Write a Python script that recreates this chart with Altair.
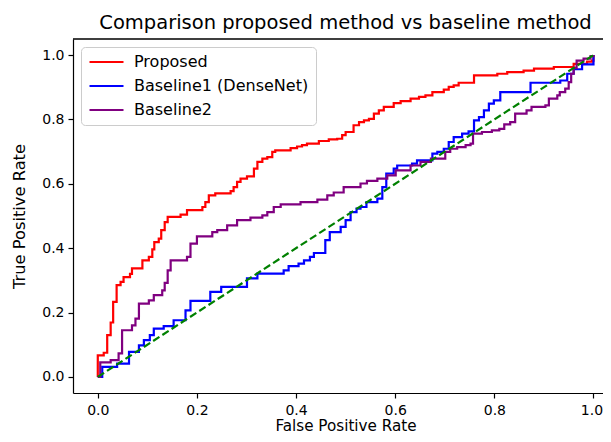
import altair as alt
import pandas as pd

# ---- data ----
series_names = ["Proposed", "Baseline1 (DenseNet)", "Baseline2"]
series_colors = ["#ff0000", "#0000ff", "#800080"]

proposed_fpr = [0, 0, 0.012, 0.019, 0.026, 0.031, 0.038, 0.046, 0.052, 0.065, 0.069, 0.09, 0.103, 0.11,
                0.114, 0.123, 0.128, 0.135, 0.141, 0.167, 0.18, 0.211, 0.217, 0.224, 0.237, 0.268, 0.274,
                0.281, 0.288, 0.301, 0.315, 0.322, 0.332, 0.342, 0.352, 0.358, 0.389, 0.402, 0.412, 0.422,
                0.446, 0.466, 0.483, 0.493, 0.5, 0.516, 0.527, 0.537, 0.547, 0.557, 0.567, 0.577, 0.597,
                0.611, 0.631, 0.648, 0.661, 0.675, 0.698, 0.708, 0.718, 0.728, 0.759, 0.806, 0.826, 0.859,
                0.88, 0.92, 0.96, 0.987, 0.997, 1.0]
proposed_tpr = [0, 0.067, 0.075, 0.13, 0.169, 0.233, 0.285, 0.295, 0.31, 0.32, 0.337, 0.362, 0.373, 0.396,
                0.419, 0.43, 0.456, 0.481, 0.497, 0.504, 0.518, 0.528, 0.543, 0.564, 0.57, 0.577, 0.59,
                0.606, 0.616, 0.623, 0.647, 0.668, 0.678, 0.683, 0.699, 0.704, 0.711, 0.716, 0.72, 0.725,
                0.733, 0.738, 0.74, 0.751, 0.761, 0.782, 0.792, 0.797, 0.802, 0.818, 0.828, 0.839, 0.851,
                0.857, 0.865, 0.87, 0.875, 0.885, 0.893, 0.901, 0.906, 0.914, 0.937, 0.942, 0.947, 0.952,
                0.958, 0.963, 0.973, 0.98, 0.983, 1.0]

baseline1_fpr = [0, 0.009, 0.039, 0.063, 0.083, 0.093, 0.105, 0.113, 0.133, 0.153, 0.177, 0.187, 0.227,
                 0.249, 0.301, 0.322, 0.375, 0.385, 0.405, 0.416, 0.428, 0.436, 0.459, 0.468, 0.49, 0.5,
                 0.51, 0.522, 0.53, 0.542, 0.564, 0.574, 0.582, 0.597, 0.604, 0.634, 0.644, 0.675, 0.685,
                 0.698, 0.708, 0.718, 0.735, 0.748, 0.759, 0.769, 0.779, 0.789, 0.799, 0.812, 0.873, 0.933,
                 0.947, 0.96, 0.977, 1.0]
baseline1_tpr = [0, 0.031, 0.041, 0.078, 0.098, 0.114, 0.13, 0.15, 0.158, 0.176, 0.207, 0.236, 0.264,
                 0.28, 0.306, 0.321, 0.331, 0.344, 0.352, 0.362, 0.373, 0.385, 0.425, 0.45, 0.466, 0.487,
                 0.512, 0.523, 0.528, 0.543, 0.554, 0.59, 0.632, 0.647, 0.657, 0.663, 0.673, 0.694, 0.699,
                 0.709, 0.73, 0.745, 0.756, 0.763, 0.797, 0.807, 0.828, 0.849, 0.859, 0.885, 0.914, 0.921,
                 0.942, 0.956, 0.971, 1.0]

baseline2_fpr = [0, 0.005, 0.026, 0.042, 0.049, 0.069, 0.076, 0.083, 0.103, 0.113, 0.13, 0.135, 0.141,
                 0.147, 0.18, 0.187, 0.2, 0.231, 0.241, 0.261, 0.281, 0.308, 0.332, 0.342, 0.355, 0.369,
                 0.409, 0.443, 0.463, 0.476, 0.496, 0.53, 0.543, 0.564, 0.584, 0.601, 0.631, 0.651, 0.672,
                 0.701, 0.711, 0.725, 0.742, 0.752, 0.757, 0.775, 0.795, 0.81, 0.82, 0.832, 0.842, 0.865,
                 0.875, 0.903, 0.91, 0.927, 0.932, 0.943, 0.95, 0.955, 0.96, 0.966, 0.98, 0.994, 1.0]
baseline2_tpr = [0, 0.045, 0.052, 0.073, 0.145, 0.16, 0.181, 0.228, 0.238, 0.254, 0.269, 0.292, 0.331,
                 0.362, 0.373, 0.414, 0.437, 0.45, 0.456, 0.471, 0.487, 0.495, 0.502, 0.512, 0.528, 0.536,
                 0.543, 0.551, 0.564, 0.573, 0.59, 0.601, 0.609, 0.616, 0.626, 0.642, 0.657, 0.668, 0.678,
                 0.699, 0.709, 0.714, 0.72, 0.725, 0.756, 0.761, 0.766, 0.771, 0.785, 0.792, 0.818, 0.828,
                 0.839, 0.844, 0.865, 0.875, 0.885, 0.896, 0.916, 0.942, 0.96, 0.983, 0.989, 0.997, 1.0]

chance_fpr = [0.0, 1.0]
chance_tpr = [0.0, 1.0]

axis_ticks = [0.0, 0.2, 0.4, 0.6, 0.8, 1.0]
x_domain = [-0.05, 1.0192]   # right part of the frame is cut by the picture edge
y_domain = [-0.05, 1.05]

# ---- build table ----
rows = []
for name, xs, ys in zip(series_names,
                        [proposed_fpr, baseline1_fpr, baseline2_fpr],
                        [proposed_tpr, baseline1_tpr, baseline2_tpr]):
    for i, (x, y) in enumerate(zip(xs, ys)):
        rows.append({"series": name, "fpr": x, "tpr": y, "i": i})
df = pd.DataFrame(rows)
chance = pd.DataFrame({"fpr": chance_fpr, "tpr": chance_tpr})

FONT = "DejaVu Sans"
W, H = 530, 354

x_enc = alt.X("fpr:Q", scale=alt.Scale(domain=x_domain, nice=False, zero=False),
              axis=alt.Axis(title="False Positive Rate", values=axis_ticks, format=".1f",
                            labelOffset=alt.ExprRef("datum.value == 1 ? -2 : 0")))
y_enc = alt.Y("tpr:Q", scale=alt.Scale(domain=y_domain, nice=False, zero=False),
              axis=alt.Axis(title="True Positive Rate", values=axis_ticks, format=".1f"))

curves = alt.Chart(df).mark_line(interpolate="step-after", strokeWidth=2.2).encode(
    x=x_enc,
    y=y_enc,
    color=alt.Color("series:N",
                    scale=alt.Scale(domain=series_names, range=series_colors),
                    sort=series_names,
                    legend=alt.Legend(title=None)),
    order=alt.Order("i:Q"),
)

diag = alt.Chart(chance).mark_line(strokeWidth=2.2, strokeDash=[7.5, 3.5], color="#008000").encode(
    x="fpr:Q", y="tpr:Q"
)

top_spine = alt.Chart(chance).mark_rule(color="black", strokeWidth=1.2).encode(
    x=alt.value(0), x2=alt.value(W), y=alt.value(0)
)

chart = alt.layer(curves, diag, top_spine).properties(
    width=W,
    height=H,
    autosize=alt.AutoSizeParams(type="none"),
    padding={"left": 65, "top": 31, "right": 0, "bottom": 41},
    title=alt.TitleParams("Comparison proposed method vs baseline method", fontSize=19.5,
                          font=FONT, fontWeight="normal", color="black", anchor="middle",
                          offset=5, dx=7.5),
).configure_view(
    stroke=None
).configure_axis(
    grid=False, domainColor="black", domainWidth=1.2, tickColor="black", tickSize=5, tickWidth=1.2,
    labelFont=FONT, labelFontSize=14, labelColor="black", titleFont=FONT, titleFontSize=16.3,
    titleFontWeight="normal", titleColor="black",
).configure_axisX(
    labelPadding=5, titlePadding=1.3, titleX=272.5, titleFontSize=15.2
).configure_axisY(
    labelPadding=4, titlePadding=14
).configure_legend(
    orient="top-left", offset=8, padding=7, fillColor="white", strokeColor="#cccccc",
    cornerRadius=4, labelFont=FONT, labelFontSize=16, labelColor="black", labelLimit=400,
    symbolType="stroke", symbolSize=1156, symbolStrokeWidth=2.2, labelOffset=9,
    clipHeight=16, rowPadding=8,
)

chart.save("out.html", embed_options={"renderer": "svg", "actions": False})
